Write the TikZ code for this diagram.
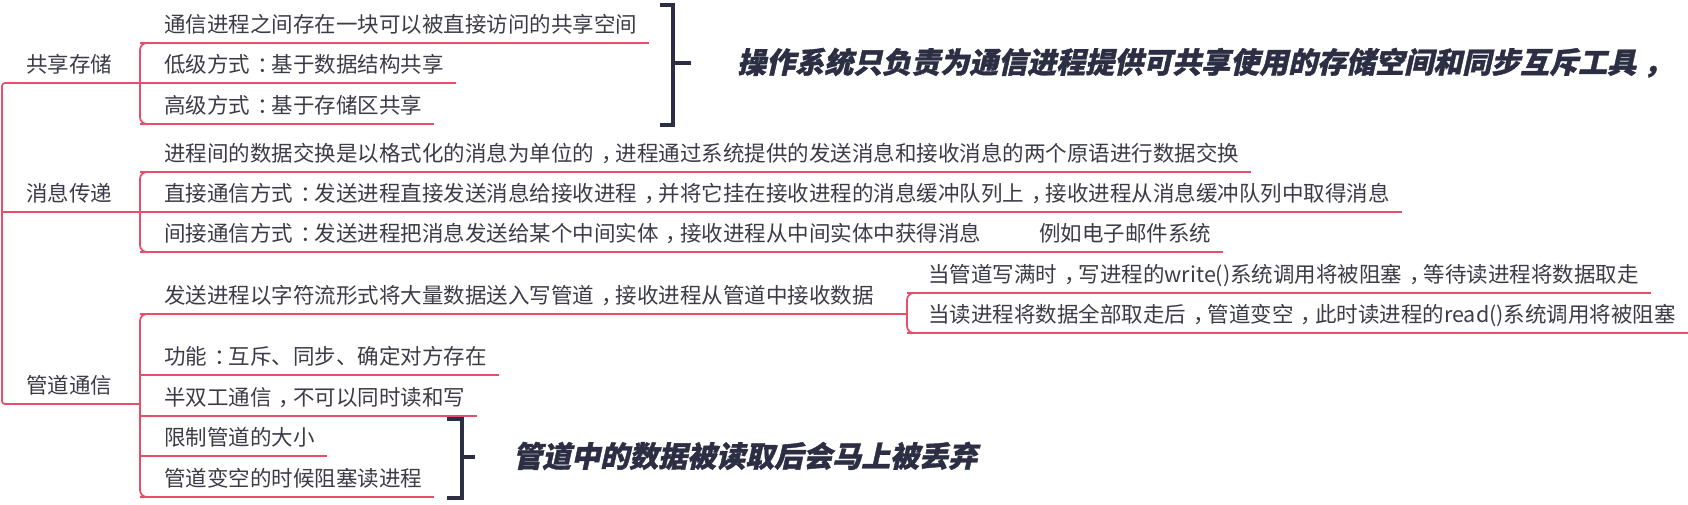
\documentclass[tikz,border=0pt]{standalone}
\usepackage{fontspec}
\setmainfont{Noto Sans CJK SC}
\newfontfamily\bigfont{Noto Sans CJK SC}[FakeSlant=0.22, FakeBold=1.3]
\newcommand\zc{\makebox[1em][l]{\hspace{0.32em}，}}
\newcommand\zl{\makebox[1em][l]{\hspace{0.36em}：}}
\definecolor{lineC}{RGB}{232,78,106}
\definecolor{txtC}{RGB}{60,60,72}
\definecolor{brkC}{RGB}{44,47,68}
\begin{document}
\begin{tikzpicture}[x=1pt,y=-1pt,
  topic/.style={anchor=south west, inner sep=0pt, text height=17pt, text depth=10pt,
    font=\fontsize{21.5}{24}\selectfont, text=txtC},
  note/.style={anchor=base west, inner sep=0pt, font=\bigfont\bfseries, text=brkC},
  uline/.style={draw=lineC, line width=1.8pt},
  conn/.style={draw=lineC, line width=1.7pt, rounded corners=7pt},
  brk/.style={draw=brkC, line width=4.8pt}]
\useasboundingbox (0,0) rectangle (1688,504);
\fill[white] (0,0) rectangle (1688,504);
% helper x positions
\coordinate (rootx) at (2,0);
\coordinate (cx) at (140,0);
\coordinate (cx2) at (156,0);
\coordinate (sx) at (907,0);
\coordinate (sx2) at (923,0);
% main topics
\node[topic] (p1) at (26,83) {共享存储};
\node[topic] (p2) at (26,212) {消息传递};
\node[topic] (p3) at (26,404) {管道通信};
% shared storage
\node[topic] (a1) at (164,43) {通信进程之间存在一块可以被直接访问的共享空间};
\node[topic] (a2) at (164,83) {低级方式\zl 基于数据结构共享};
\node[topic] (a3) at (164,124) {高级方式\zl 基于存储区共享};
% message passing
\node[topic] (m1) at (164,172) {进程间的数据交换是以格式化的消息为单位的\zc 进程通过系统提供的发送消息和接收消息的两个原语进行数据交换};
\node[topic] (m2) at (164,212) {直接通信方式\zl 发送进程直接发送消息给接收进程\zc 并将它挂在接收进程的消息缓冲队列上\zc 接收进程从消息缓冲队列中取得消息};
\node[topic] (m3) at (164,252) {间接通信方式\zl 发送进程把消息发送给某个中间实体\zc 接收进程从中间实体中获得消息};
\node[topic] (m3a) at (1039,252) {例如电子邮件系统};
% pipe
\node[topic] (c1) at (164,314) {发送进程以字符流形式将大量数据送入写管道\zc 接收进程从管道中接收数据};
\node[topic] (c2) at (164,375) {功能\zl 互斥、同步、确定对方存在};
\node[topic] (c3) at (164,416) {半双工通信\zc 不可以同时读和写};
\node[topic] (c4) at (164,456) {限制管道的大小};
\node[topic] (c5) at (164,497) {管道变空的时候阻塞读进程};
\node[topic] (s1) at (928,293) {当管道写满时\zc 写进程的write()系统调用将被阻塞\zc 等待读进程将数据取走};
\node[topic] (s2) at (928,333) {当读进程将数据全部取走后\zc 管道变空\zc 此时读进程的read()系统调用将被阻塞};
% notes
\node[note, font=\bigfont\bfseries\fontsize{29}{34}\selectfont] (n1) at (737,73) {操作系统只负责为通信进程提供可共享使用的存储空间和同步互斥工具\hspace{0.25em}，};
\node[note, font=\bigfont\bfseries\fontsize{29}{33}\selectfont] (n2) at (513,467) {管道中的数据被读取后会马上被丢弃};
% root lines
\draw[conn, rounded corners=3pt] (p1.south west -| cx) -- (p1.south west -| rootx) -- (p3.south west -| rootx) -- (p3.south west -| cx);
\draw[uline] (p2.south west -| rootx) -- (p2.south west -| cx);
% connectors to children
\draw[conn] (a1.south west -| cx2) -- (a1.south west -| cx) -- (a3.south west -| cx) -- (a3.south west -| cx2);
\draw[conn] (m1.south west -| cx2) -- (m1.south west -| cx) -- (m3.south west -| cx) -- (m3.south west -| cx2);
\draw[conn] (c1.south west -| cx2) -- (c1.south west -| cx) -- (c5.south west -| cx) -- (c5.south west -| cx2);
\draw[conn] (s1.south west -| sx2) -- (s1.south west -| sx) -- (s2.south west -| sx) -- (s2.south west -| sx2);
% underlines
\foreach \n in {a1,a2,a3,m1,m2,c2,c3,c4,c5,s1,s2}
  \draw[uline] (\n.south west) -- ([xshift=12pt]\n.south east);
\foreach \n in {a1,a2,a3,m1,m2,m3,c1,c2,c3,c4,c5}
  \draw[uline] (\n.south west -| cx) -- (\n.south west);
\draw[uline] (m3.south west) -- ([xshift=12pt]m3a.south east);
\draw[uline] (c1.south west) -- (c1.south west -| sx);
\draw[uline] (s1.south west -| sx) -- (s1.south west);
\draw[uline] (s2.south west -| sx) -- (s2.south west);
% brackets
\draw[brk] (660,5) -- (673,5) -- (673,125) -- (660,125);
\draw[brk] (673,63) -- (691,63);
\draw[brk] (447,419) -- (462,419) -- (462,498) -- (447,498);
\draw[brk] (462,457) -- (475,457);
\end{tikzpicture}
\end{document}
